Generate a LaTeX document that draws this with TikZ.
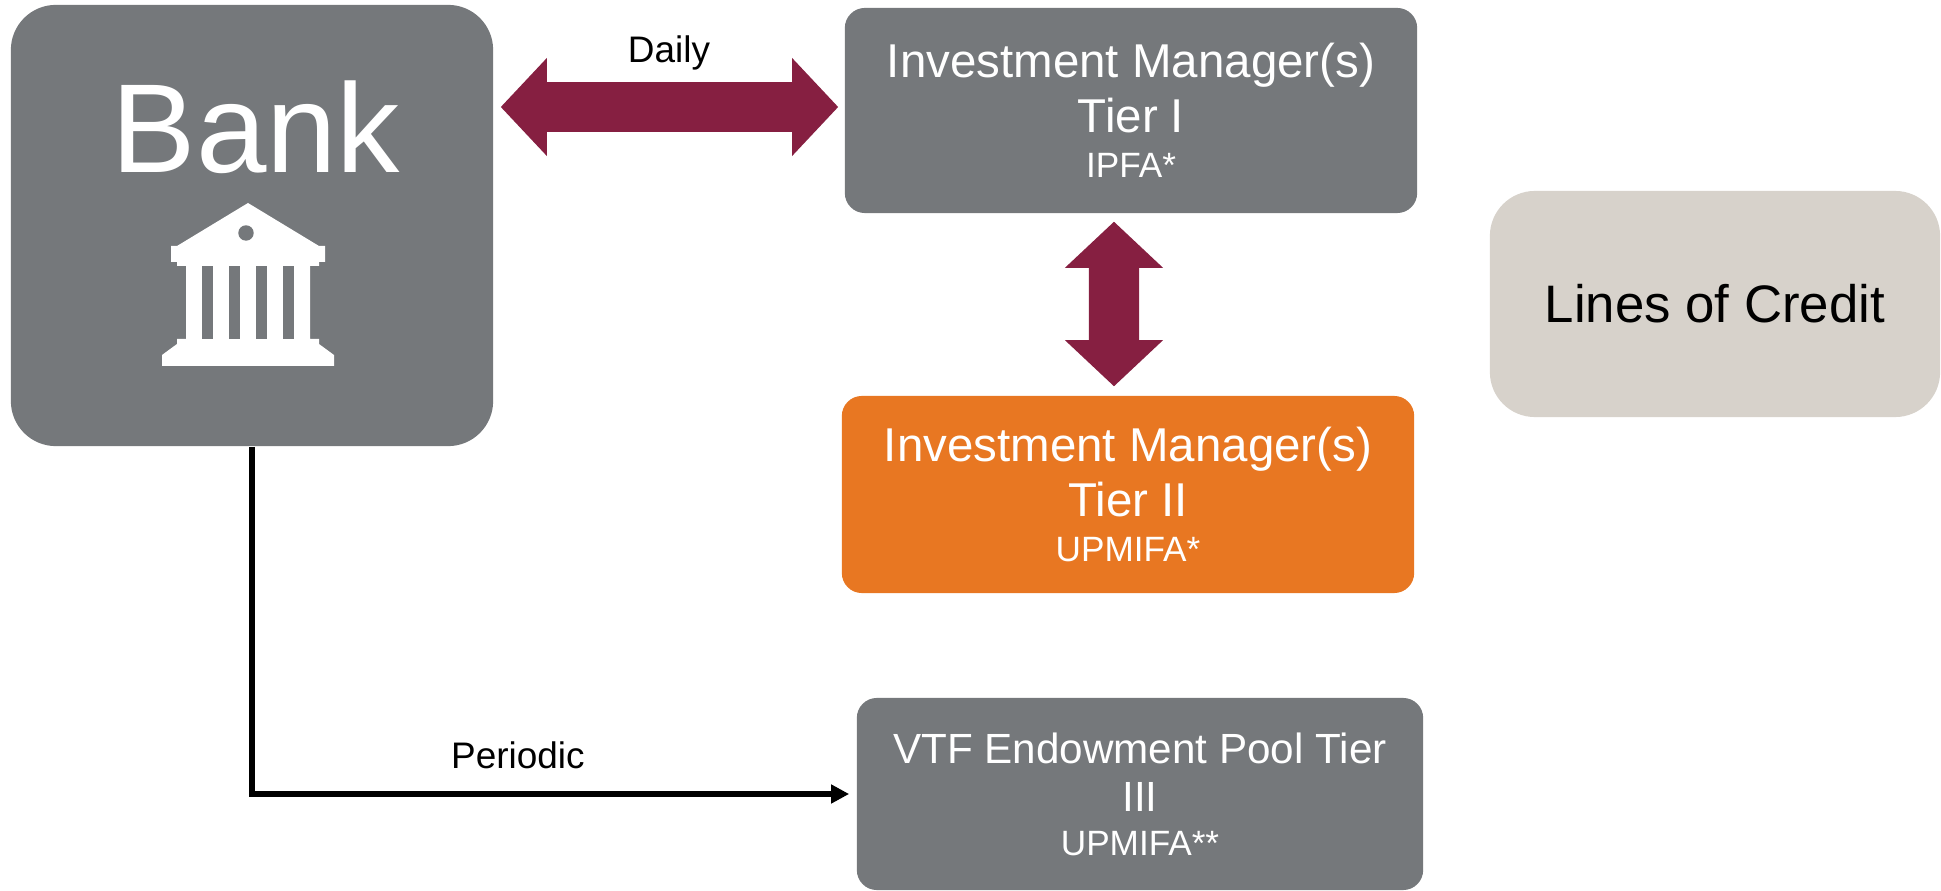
\documentclass[tikz,border=0pt]{standalone}
\usepackage{fontspec}
\setmainfont{Liberation Sans}
\usetikzlibrary{arrows.meta}

\definecolor{vtgray}{RGB}{117,120,123}
\definecolor{vtmaroon}{RGB}{134,31,65}
\definecolor{vtorange}{RGB}{232,119,34}
\definecolor{vtstone}{RGB}{215,210,203}

\tikzset{
  box/.style={rectangle, rounded corners=0.2cm, fill=vtgray, text=white, align=center, inner sep=0pt},
  tierfont/.style={font=\fontsize{13.5}{15.65}\selectfont},
  fatarrow/.style={vtmaroon, line width=0.5cm,
    {Triangle[length=0.46cm,width=0.98cm,line width=0pt]}-{Triangle[length=0.46cm,width=0.98cm,line width=0pt]}},
  thinarrow/.style={black, line width=0.05cm, -{Triangle[length=0.18cm,width=0.18cm]}},
  lab/.style={text=black, font=\fontsize{10.5}{12}\selectfont},
}

\begin{document}
\begin{tikzpicture}[x=0.01cm,y=-0.01cm]
    \useasboundingbox (0,0) rectangle (1941,891);

    % 方框
    \node[box, rounded corners=0.45cm, minimum width=4.82cm, minimum height=4.41cm] (bank) at (252,225.5) {};
    \node[anchor=base, text=white, font=\fontsize{36}{40}\selectfont] (banktext) at (256,173) {Bank};
    \node[box, tierfont, minimum width=5.72cm, minimum height=2.05cm] (tierone) at (1131,110.5)
        {Investment Manager(s)\\Tier I\\[-2.85pt]{\fontsize{10}{12}\selectfont IPFA*}};
    \node[box, tierfont, fill=vtorange, minimum width=5.72cm, minimum height=1.97cm] (tiertwo) at (1128,494.5)
        {Investment Manager(s)\\Tier II\\[-2.85pt]{\fontsize{10}{12}\selectfont UPMIFA*}};
    \node[box, font=\fontsize{12}{13.7}\selectfont, minimum width=5.66cm, minimum height=1.92cm] (tierthree) at (1140,794)
        {VTF Endowment Pool Tier\\III\\[-1.2pt]{\fontsize{10}{12}\selectfont UPMIFA**}};
    \node[box, rounded corners=0.45cm, fill=vtstone, text=black, font=\fontsize{15}{18}\selectfont,
        minimum width=4.5cm, minimum height=2.26cm] (credit) at (1715,304) {Lines of Credit};

    % 银行图标
    \fill[white] (248,203) -- (319,246) -- (325,246) -- (325,262) -- (319,262) -- (319,266) -- (310,266)
        -- (310,339) -- (319,339) -- (319,344) -- (334,355) -- (334,366) -- (162,366) -- (162,355)
        -- (177,344) -- (177,339) -- (186,339) -- (186,266) -- (177,266) -- (177,262) -- (171,262)
        -- (171,246) -- (177,246) -- cycle;
    \foreach \x in {202,229,256,283}
        \fill[vtgray] (\x,266) rectangle (\x+11,339);
    \fill[vtgray] (246,233) circle[radius=0.077cm];

    % 箭头
    \draw[fatarrow, shorten <=0.07cm, shorten >=0.06cm] ([yshift=0.035cm]bank.east |- tierone.west)
        -- node[lab, anchor=base, yshift=0.44cm] (daily) {Daily} ([yshift=0.035cm]tierone.west);
    \draw[fatarrow, shorten <=0.08cm, shorten >=0.09cm] ([xshift=-0.17cm]tierone.south) -- ([xshift=-0.14cm]tiertwo.north);
    \draw[thinarrow, shorten >=0.07cm] (bank.south) |- node[lab, pos=0.72, anchor=base, yshift=0.25cm] (periodic) {Periodic} (tierthree.west);
\end{tikzpicture}
\end{document}
